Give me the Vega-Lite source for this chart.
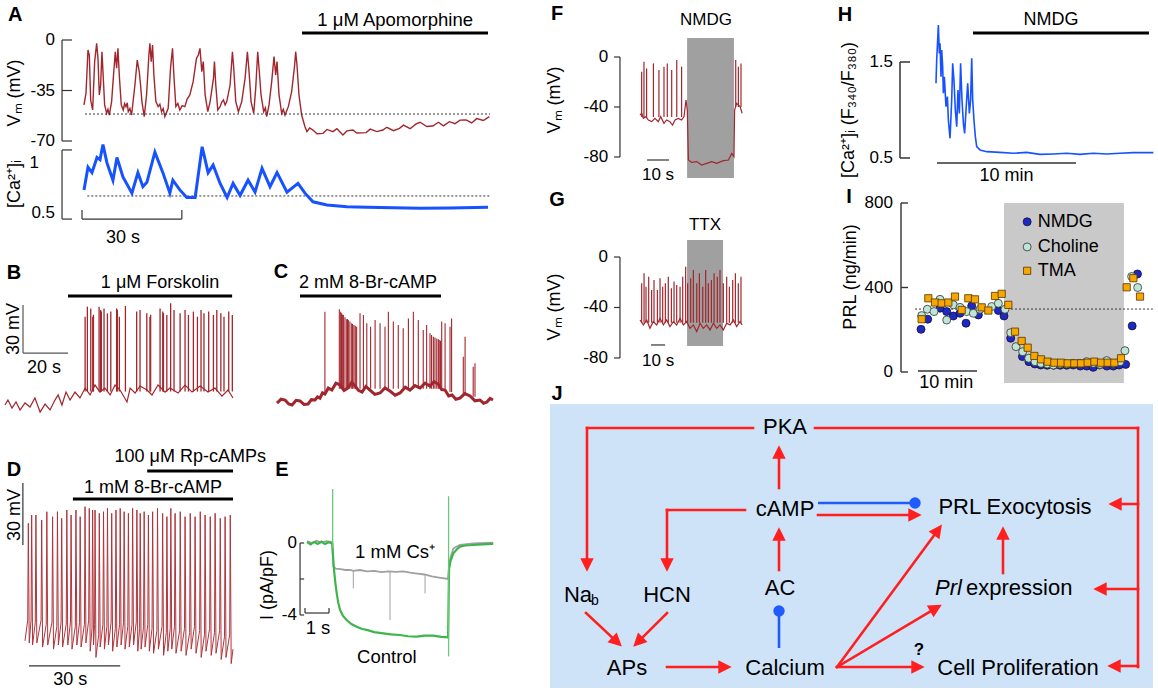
{
"$schema": "https://vega.github.io/schema/vega-lite/v6.json",
"width": 1158, "height": 692, "autosize": "none", "padding": 0, "background": "#ffffff",
"config": {"view": {"stroke": null}, "font": "Liberation Sans"},
"resolve": {"scale": {"x": "independent", "y": "independent"}},
"layer": [
{
"encoding": {"x": {"field": "t", "type": "quantitative", "scale": {"domain": [0, 122], "range": [84, 490], "nice": false, "zero": false}, "axis": null},
"y": {"field": "v", "type": "quantitative", "scale": {"domain": [-70, 0], "range": [141, 40], "nice": false, "zero": false}, "axis": null}},
"layer": [
{"data": {"values": [{"t":0.0,"v":-45},{"t":0.6,"v":-36.9},{"t":1.2,"v":-6.9},{"t":1.6,"v":-10.4},{"t":2.0,"v":-41.6},{"t":2.6,"v":-48.5},{"t":3.2,"v":-15},{"t":3.8,"v":-2.3},{"t":4.2,"v":-12.7},{"t":4.6,"v":-38.1},{"t":5.0,"v":-31.2},{"t":5.4,"v":-8.1},{"t":5.8,"v":-26.6},{"t":6.2,"v":-45},{"t":6.8,"v":-50.8},{"t":7.2,"v":-48},{"t":7.6,"v":-52},{"t":8.3,"v":-42.7},{"t":8.8,"v":-26.6},{"t":9.4,"v":-8.1},{"t":9.8,"v":-19.6},{"t":10.2,"v":-5.8},{"t":10.6,"v":-24.3},{"t":11.2,"v":-45},{"t":11.8,"v":-48.5},{"t":12.2,"v":-44},{"t":12.6,"v":-46.2},{"t":13.0,"v":-43.5},{"t":13.3,"v":-49.7},{"t":13.8,"v":-47.5},{"t":14.3,"v":-52},{"t":15.3,"v":-31.2},{"t":16.0,"v":-13.9},{"t":16.6,"v":-21.9},{"t":17.0,"v":-31.2},{"t":17.4,"v":-42.7},{"t":18.1,"v":-53.1},{"t":18.8,"v":-38.1},{"t":19.5,"v":-10.4},{"t":19.8,"v":-2.3},{"t":20.2,"v":-15},{"t":20.6,"v":-3.5},{"t":21.0,"v":-24.3},{"t":21.6,"v":-42.7},{"t":22.3,"v":-46.2},{"t":22.8,"v":-44.5},{"t":23.3,"v":-49.7},{"t":23.8,"v":-47.5},{"t":24.3,"v":-53.1},{"t":25.3,"v":-47.3},{"t":26.0,"v":-19.6},{"t":26.6,"v":-5.8},{"t":27.0,"v":-24.3},{"t":27.6,"v":-46.2},{"t":28.2,"v":-44},{"t":28.8,"v":-48.5},{"t":29.5,"v":-45.5},{"t":30.3,"v":-46.2},{"t":31.0,"v":-41},{"t":31.8,"v":-38.1},{"t":32.8,"v":-28.9},{"t":33.8,"v":-12.7},{"t":34.35,"v":-10.4},{"t":34.85,"v":-5.8},{"t":35.4,"v":-21.9},{"t":35.85,"v":-15},{"t":36.4,"v":-38.1},{"t":37.2,"v":-49.7},{"t":37.9,"v":-42.7},{"t":38.9,"v":-26.6},{"t":39.2,"v":-15},{"t":39.6,"v":-31.2},{"t":40.2,"v":-48.5},{"t":40.9,"v":-46.2},{"t":41.4,"v":-43},{"t":41.9,"v":-41.6},{"t":42.4,"v":-45},{"t":42.9,"v":-42.7},{"t":43.9,"v":-31.2},{"t":44.6,"v":-8.1},{"t":45.0,"v":-19.6},{"t":45.6,"v":-42.7},{"t":46.4,"v":-49.7},{"t":47.4,"v":-42.7},{"t":48.4,"v":-26.6},{"t":49.1,"v":-8.1},{"t":49.6,"v":-21.9},{"t":50.2,"v":-42.7},{"t":51.0,"v":-50.8},{"t":51.6,"v":-33.5},{"t":52.2,"v":-8.1},{"t":52.6,"v":-19.6},{"t":53.2,"v":-38.1},{"t":54.0,"v":-49.7},{"t":54.5,"v":-47},{"t":54.9,"v":-53.1},{"t":55.6,"v":-45},{"t":56.4,"v":-28.9},{"t":57.1,"v":-11.5},{"t":57.6,"v":-24.3},{"t":58.0,"v":-15},{"t":58.6,"v":-38.1},{"t":59.4,"v":-50.8},{"t":59.9,"v":-48},{"t":60.4,"v":-52},{"t":61.4,"v":-46.2},{"t":62.4,"v":-35.8},{"t":63.3,"v":-17.3},{"t":63.6,"v":-8.1},{"t":64.0,"v":-17.3},{"t":64.6,"v":-38.1},{"t":65.4,"v":-52},{"t":66.4,"v":-60.1},{"t":67.0,"v":-63.5},{"t":67.8,"v":-61},{"t":68.8,"v":-62.4},{"t":70,"v":-65},{"t":71.8,"v":-64.7},{"t":73,"v":-62},{"t":74.8,"v":-63.5},{"t":76,"v":-61.5},{"t":77.8,"v":-65.8},{"t":79,"v":-63},{"t":80.8,"v":-62.4},{"t":82,"v":-64.5},{"t":84.8,"v":-64.2},{"t":86,"v":-61.8},{"t":88,"v":-63.5},{"t":89.8,"v":-62.4},{"t":91,"v":-60.5},{"t":93,"v":-62.8},{"t":94.8,"v":-61.2},{"t":96,"v":-59},{"t":98,"v":-61.5},{"t":99.8,"v":-58.2},{"t":101,"v":-57},{"t":103,"v":-60},{"t":104.8,"v":-59.6},{"t":106.5,"v":-57},{"t":108,"v":-59.5},{"t":109.8,"v":-56.6},{"t":111.5,"v":-58},{"t":113,"v":-55.5},{"t":114.8,"v":-55.4},{"t":116.5,"v":-57.5},{"t":118,"v":-54.5},{"t":120,"v":-55.8},{"t":121.8,"v":-53.1}]},
 "mark": {"type": "line", "color": "#a1262d", "strokeWidth": 1.4}},
{"data": {"values": [{"t":0.3,"v":-51.3},{"t":122,"v":-51.3}]}, "mark": {"type": "line", "color": "#333333", "strokeWidth": 1, "strokeDash": [2, 2]}},
{"data": {"values": [{"t":-6.6,"t2":-6.6,"v":-70,"v2":0},{"t":-6.6,"t2":-3.6,"v":0,"v2":0},{"t":-6.6,"t2":-3.6,"v":-35,"v2":-35},{"t":-6.6,"t2":-3.6,"v":-70,"v2":-70}]},
 "mark": {"type": "rule", "color": "#333333", "strokeWidth": 1.2}, "encoding": {"x2": {"field": "t2"}, "y2": {"field": "v2"}}},
{"data": {"values": [{"t":65.5,"t2":121.4,"v":4.85,"v2":4.85}]}, "mark": {"type": "rule", "color": "#000000", "strokeWidth": 3}, "encoding": {"x2": {"field": "t2"}, "y2": {"field": "v2"}}},
{"data": {"values": [{"t":93.5,"v":13.9,"label":"1 μM Apomorphine"}]}, "mark": {"type": "text", "fontSize": 18.5}, "encoding": {"text": {"field": "label"}}},
{"data": {"values": [{"t":-8.7,"v":0,"label":"0"},{"t":-8.7,"v":-35,"label":"-35"},{"t":-8.7,"v":-70,"label":"-70"}]}, "mark": {"type": "text", "fontSize": 17, "align": "right"}, "encoding": {"text": {"field": "label"}}},
{"data": {"values": [{"t":-20.7,"v":-36.7,"label":"Vₘ (mV)"}]}, "mark": {"type": "text", "fontSize": 18, "angle": 270}, "encoding": {"text": {"field": "label"}}},
{"data": {"values": [{"t":-20.7,"v":17.3,"label":"A"}]}, "mark": {"type": "text", "fontSize": 20, "fontWeight": "bold"}, "encoding": {"text": {"field": "label"}}}
]
},
{
"encoding": {"x": {"field": "t", "type": "quantitative", "scale": {"domain": [0, 122], "range": [84, 490], "nice": false, "zero": false}, "axis": null},
"y": {"field": "v", "type": "quantitative", "scale": {"domain": [0.5, 1.0], "range": [218, 164], "nice": false, "zero": false}, "axis": null}},
"layer": [
{"data": {"values": [{"t":1,"v":0.704},{"t":122,"v":0.704}]}, "mark": {"type": "line", "color": "#333333", "strokeWidth": 1, "strokeDash": [2, 2]}},
{"data": {"values": [{"t":0,"v":0.76},{"t":1.2,"v":0.97},{"t":2.4,"v":0.92},{"t":3.9,"v":1.06},{"t":4.8,"v":1.04},{"t":5.7,"v":1.18},{"t":6.9,"v":1.01},{"t":8.7,"v":0.85},{"t":9.9,"v":1.06},{"t":11.7,"v":0.88},{"t":14.4,"v":0.73},{"t":16.2,"v":0.92},{"t":17.7,"v":0.79},{"t":18.9,"v":0.83},{"t":21.3,"v":1.11},{"t":23.7,"v":0.92},{"t":25.8,"v":0.73},{"t":26.7,"v":0.85},{"t":28.8,"v":0.76},{"t":30.9,"v":0.69},{"t":33.4,"v":0.69},{"t":35.5,"v":1.16},{"t":37.3,"v":0.92},{"t":38.8,"v":0.99},{"t":40.9,"v":0.82},{"t":43.0,"v":0.69},{"t":44.8,"v":0.82},{"t":46.9,"v":0.71},{"t":49.3,"v":0.85},{"t":51.4,"v":0.74},{"t":53.5,"v":0.96},{"t":55.9,"v":0.79},{"t":58.0,"v":0.92},{"t":61.0,"v":0.74},{"t":64.3,"v":0.82},{"t":66.4,"v":0.73},{"t":68.8,"v":0.65},{"t":73.0,"v":0.62},{"t":79,"v":0.605},{"t":85,"v":0.6},{"t":93,"v":0.595},{"t":101,"v":0.59},{"t":110,"v":0.592},{"t":121.4,"v":0.6}]},
 "mark": {"type": "line", "color": "#1752ff", "strokeWidth": 3}},
{"data": {"values": [{"t":-6.6,"t2":-6.6,"v":0.49,"v2":1.13},{"t":-6.6,"t2":-3.6,"v":1.13,"v2":1.13},{"t":-6.6,"t2":-3.6,"v":0.49,"v2":0.49},{"t":-0.6,"t2":29.4,"v":0.49,"v2":0.49},{"t":-0.6,"t2":-0.6,"v":0.49,"v2":0.574},{"t":29.4,"t2":29.4,"v":0.49,"v2":0.574}]},
 "mark": {"type": "rule", "color": "#333333", "strokeWidth": 1.2}, "encoding": {"x2": {"field": "t2"}, "y2": {"field": "v2"}}},
{"data": {"values": [{"t":-13.5,"v":1.01,"label":"1"},{"t":-8.7,"v":0.546,"label":"0.5"}]}, "mark": {"type": "text", "fontSize": 17, "align": "right"}, "encoding": {"text": {"field": "label"}}},
{"data": {"values": [{"t":11.7,"v":0.315,"label":"30 s"}]}, "mark": {"type": "text", "fontSize": 18}, "encoding": {"text": {"field": "label"}}},
{"data": {"values": [{"t":-20.7,"v":0.815,"label":"[Ca²⁺]ᵢ"}]}, "mark": {"type": "text", "fontSize": 18, "angle": 270}, "encoding": {"text": {"field": "label"}}}
]
},
{
"encoding": {"x": {"field": "t", "type": "quantitative", "scale": {"domain": [0, 101.3], "range": [5, 233], "nice": false, "zero": false}, "axis": null},
"y": {"field": "v", "type": "quantitative", "scale": {"domain": [-60, 0], "range": [406, 310], "nice": false, "zero": false}, "axis": null}},
"layer": [
{"data": {"values": [{"t":0,"v":-59.4},{"t":1.3,"v":-56.3},{"t":3.1,"v":-61.3},{"t":4.9,"v":-57.5},{"t":6.7,"v":-62.5},{"t":8.9,"v":-58.1},{"t":11.1,"v":-60.6},{"t":13.3,"v":-55},{"t":15.6,"v":-63.8},{"t":17.8,"v":-58.8},{"t":20,"v":-62.5},{"t":22.2,"v":-56.3},{"t":23.6,"v":-53.1},{"t":25.3,"v":-59.4},{"t":27.1,"v":-51.3},{"t":28.9,"v":-56.3},{"t":31.1,"v":-51.3},{"t":33.3,"v":-55},{"t":35.6,"v":-48.8},{"t":37.8,"v":-53.1},{"t":40,"v":-46.9},{"t":42.2,"v":-51.3},{"t":44.4,"v":-48.8},{"t":46.7,"v":-53.1},{"t":48.9,"v":-46.9},{"t":51.1,"v":-50},{"t":54.2,"v":-57.5},{"t":55.6,"v":-48.8},{"t":57.8,"v":-51.9},{"t":60,"v":-47.5},{"t":63.1,"v":-50},{"t":65.3,"v":-53.1},{"t":68,"v":-46.9},{"t":71.1,"v":-51.3},{"t":73.3,"v":-48.8},{"t":76.9,"v":-51.9},{"t":80,"v":-46.9},{"t":83.1,"v":-51.3},{"t":86.7,"v":-47.5},{"t":90.2,"v":-51.3},{"t":93.3,"v":-48.8},{"t":96.4,"v":-53.8},{"t":99.1,"v":-50},{"t":101.3,"v":-55}]},
 "mark": {"type": "line", "color": "#a1262d", "strokeWidth": 1.2}},
{"data": {"values": [{"t":35.6,"v":-51,"v2":-4.2},{"t":36.6,"v":-51,"v2":2.1},{"t":38.1,"v":-51,"v2":1},{"t":39.0,"v":-51,"v2":-4.2},{"t":39.3,"v":-51,"v2":-3},{"t":41.8,"v":-51,"v2":2.1},{"t":42.5,"v":-51,"v2":0},{"t":42.8,"v":-51,"v2":-1},{"t":44.0,"v":-51,"v2":1},{"t":45.5,"v":-51,"v2":-2.1},{"t":47.0,"v":-51,"v2":-1},{"t":49.6,"v":-51,"v2":1},{"t":49.9,"v":-51,"v2":0},{"t":50.8,"v":-51,"v2":-4.2},{"t":53.5,"v":-51,"v2":2.5},{"t":58.5,"v":-51,"v2":-1},{"t":60.0,"v":-51,"v2":0},{"t":63.0,"v":-51,"v2":-2.1},{"t":64.4,"v":-51,"v2":-4.2},{"t":64.7,"v":-51,"v2":-3},{"t":68.9,"v":-51,"v2":1},{"t":70.1,"v":-51,"v2":-1},{"t":70.4,"v":-51,"v2":-2},{"t":71.9,"v":-51,"v2":-3.1},{"t":73.6,"v":-51,"v2":4.2},{"t":75.1,"v":-51,"v2":0},{"t":77.8,"v":-51,"v2":-2.1},{"t":80.0,"v":-51,"v2":0},{"t":81.5,"v":-51,"v2":-3.1},{"t":83.7,"v":-51,"v2":-1},{"t":85.5,"v":-51,"v2":-4.2},{"t":87.1,"v":-51,"v2":0},{"t":88.4,"v":-51,"v2":-2.1},{"t":90.5,"v":-51,"v2":-1},{"t":92.6,"v":-51,"v2":-3.1},{"t":94.1,"v":-51,"v2":0},{"t":95.9,"v":-51,"v2":-2.1},{"t":97.3,"v":-51,"v2":-4.2},{"t":99.4,"v":-51,"v2":-1},{"t":101.0,"v":-51,"v2":-3.1}]},
 "mark": {"type": "rule", "color": "#a1262d", "strokeWidth": 1.3}, "encoding": {"y2": {"field": "v2"}}},
{"data": {"values": [{"t":8,"t2":8,"v":-26.9,"v2":3.1},{"t":8,"t2":28,"v":-26.9,"v2":-26.9}]}, "mark": {"type": "rule", "color": "#555555", "strokeWidth": 1.2}, "encoding": {"x2": {"field": "t2"}, "y2": {"field": "v2"}}},
{"data": {"values": [{"t":28,"t2":100.9,"v":8.75,"v2":8.75}]}, "mark": {"type": "rule", "color": "#000000", "strokeWidth": 3}, "encoding": {"x2": {"field": "t2"}, "y2": {"field": "v2"}}},
{"data": {"values": [{"t":68.9,"v":16.9,"label":"1 μM Forskolin"},{"t":17.3,"v":-36.25,"label":"20 s"}]}, "mark": {"type": "text", "fontSize": 18}, "encoding": {"text": {"field": "label"}}},
{"data": {"values": [{"t":4.2,"v":-11.9,"label":"30 mV"}]}, "mark": {"type": "text", "fontSize": 18, "angle": 270}, "encoding": {"text": {"field": "label"}}},
{"data": {"values": [{"t":4.0,"v":23.1,"label":"B"}]}, "mark": {"type": "text", "fontSize": 20, "fontWeight": "bold"}, "encoding": {"text": {"field": "label"}}}
]
},
{
"encoding": {"x": {"field": "t", "type": "quantitative", "scale": {"domain": [0, 96], "range": [277, 493], "nice": false, "zero": false}, "axis": null},
"y": {"field": "v", "type": "quantitative", "scale": {"domain": [-60, 0], "range": [416, 320], "nice": false, "zero": false}, "axis": null}},
"layer": [
{"data": {"values": [{"t":21.3,"v":-46,"v2":5.2},{"t":27.7,"v":-43,"v2":6.7},{"t":28.3,"v":-43,"v2":5.2},{"t":28.7,"v":-43,"v2":4.2},{"t":29.2,"v":-43,"v2":3.5},{"t":29.5,"v":-43,"v2":3.1},{"t":30.2,"v":-43,"v2":1.7},{"t":31.0,"v":-43,"v2":0.4},{"t":31.3,"v":-43,"v2":0.7},{"t":31.7,"v":-43,"v2":0},{"t":32.4,"v":-43,"v2":-1},{"t":33.2,"v":-43,"v2":-2.1},{"t":33.6,"v":-43,"v2":-2.5},{"t":34.2,"v":-43,"v2":-3.1},{"t":34.8,"v":-43,"v2":-3.6},{"t":35.4,"v":-43,"v2":-4.2},{"t":36.9,"v":-43,"v2":4.2},{"t":38.4,"v":-43,"v2":3.1},{"t":39.9,"v":-43,"v2":-2.1},{"t":41.6,"v":-43,"v2":-4.2},{"t":43.6,"v":-43,"v2":0},{"t":45.8,"v":-43,"v2":-2.1},{"t":48.0,"v":-43,"v2":-4.2},{"t":49.5,"v":-43,"v2":5.2},{"t":51.7,"v":-43,"v2":-1},{"t":53.9,"v":-43,"v2":-3.1},{"t":56.1,"v":-43,"v2":-5.2},{"t":58.4,"v":-43,"v2":1},{"t":60.6,"v":-43,"v2":5.2},{"t":62.8,"v":-43,"v2":0},{"t":65.0,"v":-43,"v2":-6.2},{"t":66.5,"v":-43,"v2":-3.1},{"t":68.0,"v":-43,"v2":-8.3},{"t":68.7,"v":-43,"v2":-9.4},{"t":69.5,"v":-43,"v2":-10.4},{"t":70.2,"v":-43,"v2":-11},{"t":71.0,"v":-43,"v2":-11.5},{"t":71.7,"v":-43,"v2":-12},{"t":72.1,"v":-43,"v2":-12.5},{"t":72.7,"v":-43,"v2":-13},{"t":73.2,"v":-43,"v2":-1},{"t":74.7,"v":-43,"v2":-2.1},{"t":76.9,"v":-45,"v2":-4.2},{"t":77.6,"v":-45,"v2":1},{"t":82.8,"v":-47,"v2":-22.9},{"t":83.6,"v":-47,"v2":-10.4},{"t":87.2,"v":-48,"v2":-29.2},{"t":88.0,"v":-48,"v2":-27.1}]},
 "mark": {"type": "rule", "color": "#a1262d", "strokeWidth": 1.1}, "encoding": {"y2": {"field": "v2"}}},
{"data": {"values": [{"t":0,"v":-51.9},{"t":1.8,"v":-49.5},{"t":3.6,"v":-50},{"t":5.2,"v":-52.5},{"t":6.7,"v":-53.1},{"t":8.5,"v":-50.2},{"t":10.2,"v":-50.6},{"t":12,"v":-52.8},{"t":13.8,"v":-52.5},{"t":15.3,"v":-49.8},{"t":16.9,"v":-50},{"t":18,"v":-48},{"t":19.1,"v":-48.8},{"t":20.2,"v":-45.5},{"t":21.3,"v":-46.3},{"t":22.8,"v":-42.5},{"t":24.4,"v":-43.8},{"t":26.2,"v":-39.5},{"t":28,"v":-40.6},{"t":29.8,"v":-44},{"t":31.6,"v":-42.5},{"t":33.2,"v":-39},{"t":34.7,"v":-41.3},{"t":36.2,"v":-44},{"t":37.8,"v":-45},{"t":39.5,"v":-41.5},{"t":41.3,"v":-43.8},{"t":43.5,"v":-46.5},{"t":45.8,"v":-45.6},{"t":48,"v":-42.5},{"t":50.2,"v":-44.4},{"t":52.5,"v":-47},{"t":54.7,"v":-45.6},{"t":57,"v":-42},{"t":59.1,"v":-43.8},{"t":61.3,"v":-41},{"t":63.6,"v":-42.5},{"t":65.8,"v":-39.5},{"t":68,"v":-41.3},{"t":69.8,"v":-38.5},{"t":71.6,"v":-40},{"t":73.2,"v":-43.5},{"t":74.7,"v":-43.8},{"t":76.3,"v":-47.5},{"t":77.8,"v":-46.9},{"t":79.5,"v":-49.5},{"t":81.3,"v":-48.8},{"t":83.5,"v":-46},{"t":85.8,"v":-47.5},{"t":88,"v":-50.5},{"t":90.2,"v":-50},{"t":91.8,"v":-52},{"t":93.3,"v":-51.3},{"t":94.7,"v":-49},{"t":96,"v":-50}]},
 "mark": {"type": "line", "color": "#a1262d", "strokeWidth": 3}},
{"data": {"values": [{"t":10.2,"t2":72.9,"v":15,"v2":15}]}, "mark": {"type": "rule", "color": "#000000", "strokeWidth": 3}, "encoding": {"x2": {"field": "t2"}, "y2": {"field": "v2"}}},
{"data": {"values": [{"t":40.4,"v":23.1,"label":"2 mM 8-Br-cAMP"}]}, "mark": {"type": "text", "fontSize": 18}, "encoding": {"text": {"field": "label"}}},
{"data": {"values": [{"t":1.8,"v":30,"label":"C"}]}, "mark": {"type": "text", "fontSize": 20, "fontWeight": "bold"}, "encoding": {"text": {"field": "label"}}}
]
},
{
"encoding": {"x": {"field": "t", "type": "quantitative", "scale": {"domain": [0, 68.6], "range": [25, 233], "nice": false, "zero": false}, "axis": null},
"y": {"field": "v", "type": "quantitative", "scale": {"domain": [-70, 10], "range": [665.7, 500.1], "nice": false, "zero": false}, "axis": null}},
"layer": [
{"data": {"values": [{"t":0,"v":-58},{"t":0.9,"v":-48},{"t":1.1,"v":-1.2},{"t":1.4,"v":-59},{"t":2.0,"v":-48},{"t":2.2,"v":2.8},{"t":2.5,"v":-60},{"t":3.4,"v":-49},{"t":3.6,"v":2.8},{"t":3.9,"v":-59},{"t":5.3,"v":-48},{"t":5.5,"v":0.4},{"t":5.8,"v":-61},{"t":7.0,"v":-50},{"t":7.2,"v":4.4},{"t":7.5,"v":-60},{"t":8.9,"v":-49},{"t":9.1,"v":2.0},{"t":9.4,"v":-62},{"t":10.5,"v":-51},{"t":10.7,"v":4.4},{"t":11.0,"v":-60},{"t":11.9,"v":-49},{"t":12.1,"v":1.2},{"t":12.4,"v":-61},{"t":13.6,"v":-50},{"t":13.8,"v":5.2},{"t":14.1,"v":-60},{"t":15.0,"v":-49},{"t":15.2,"v":2.8},{"t":15.5,"v":-62},{"t":16.6,"v":-51},{"t":16.8,"v":5.2},{"t":17.1,"v":-60},{"t":18.0,"v":-49},{"t":18.2,"v":2.0},{"t":18.5,"v":-61},{"t":19.6,"v":-50},{"t":19.8,"v":6.8},{"t":20.1,"v":-59},{"t":21.0,"v":-48},{"t":21.2,"v":6.0},{"t":21.5,"v":-63},{"t":22.1,"v":-52},{"t":22.3,"v":5.2},{"t":22.6,"v":-60},{"t":22.95,"v":-50},{"t":23.1,"v":5.2},{"t":23.4,"v":-66},{"t":24.3,"v":-55},{"t":24.5,"v":3.6},{"t":24.8,"v":-61},{"t":25.7,"v":-50},{"t":25.9,"v":4.4},{"t":26.2,"v":-62},{"t":27.0,"v":-51},{"t":27.2,"v":6.0},{"t":27.5,"v":-60},{"t":28.4,"v":-49},{"t":28.6,"v":3.6},{"t":28.9,"v":-63},{"t":29.8,"v":-52},{"t":30.0,"v":5.2},{"t":30.3,"v":-61},{"t":31.2,"v":-50},{"t":31.4,"v":6.0},{"t":31.7,"v":-60},{"t":32.5,"v":-49},{"t":32.7,"v":4.4},{"t":33.0,"v":-62},{"t":33.9,"v":-51},{"t":34.1,"v":3.6},{"t":34.4,"v":-61},{"t":35.3,"v":-50},{"t":35.5,"v":6.0},{"t":35.8,"v":-60},{"t":36.7,"v":-49},{"t":36.9,"v":5.2},{"t":37.2,"v":-63},{"t":37.8,"v":-52},{"t":38.0,"v":3.6},{"t":38.3,"v":-62},{"t":39.1,"v":-51},{"t":39.3,"v":4.4},{"t":39.6,"v":-61},{"t":40.5,"v":-50},{"t":40.7,"v":2.8},{"t":41.0,"v":-63},{"t":41.9,"v":-52},{"t":42.1,"v":4.4},{"t":42.4,"v":-64},{"t":43.5,"v":-53},{"t":43.7,"v":6.0},{"t":44.0,"v":-62},{"t":45.2,"v":-51},{"t":45.4,"v":3.6},{"t":45.7,"v":-65},{"t":46.6,"v":-54},{"t":46.8,"v":2.0},{"t":47.1,"v":-63},{"t":47.9,"v":-52},{"t":48.1,"v":6.0},{"t":48.4,"v":-62},{"t":49.3,"v":-51},{"t":49.5,"v":3.6},{"t":49.8,"v":-64},{"t":51.0,"v":-53},{"t":51.2,"v":4.4},{"t":51.5,"v":-63},{"t":52.6,"v":-52},{"t":52.8,"v":2.0},{"t":53.1,"v":-65},{"t":54.3,"v":-54},{"t":54.5,"v":3.6},{"t":54.8,"v":-62},{"t":55.9,"v":-51},{"t":56.1,"v":2.0},{"t":56.4,"v":-64},{"t":57.6,"v":-53},{"t":57.8,"v":4.4},{"t":58.1,"v":-66},{"t":59.2,"v":-55},{"t":59.4,"v":2.8},{"t":59.7,"v":-63},{"t":60.9,"v":-52},{"t":61.1,"v":2.0},{"t":61.4,"v":-65},{"t":62.5,"v":-54},{"t":62.7,"v":3.6},{"t":63.0,"v":-64},{"t":64.2,"v":-53},{"t":64.4,"v":1.2},{"t":64.7,"v":-67},{"t":65.8,"v":-56},{"t":66.0,"v":2.0},{"t":66.3,"v":-66},{"t":67.5,"v":-55},{"t":67.7,"v":2.8},{"t":68.0,"v":-69},{"t":68.6,"v":-62}]},
 "mark": {"type": "line", "color": "#b0343c", "strokeWidth": 1}},
{"data": {"values": [{"t":-0.7,"t2":-0.7,"v":-11.7,"v2":18.3},{"t":1.32,"t2":31.4,"v":-70.1,"v2":-70.1}]}, "mark": {"type": "rule", "color": "#333333", "strokeWidth": 1.2}, "encoding": {"x2": {"field": "t2"}, "y2": {"field": "v2"}}},
{"data": {"values": [{"t":15.8,"t2":68.6,"v":10.5,"v2":10.5},{"t":40.3,"t2":68.6,"v":24.1,"v2":24.1}]}, "mark": {"type": "rule", "color": "#000000", "strokeWidth": 3}, "encoding": {"x2": {"field": "t2"}, "y2": {"field": "v2"}}},
{"data": {"values": [{"t":42.2,"v":15.8,"label":"1 mM 8-Br-cAMP"},{"t":54.5,"v":30.8,"label":"100 μM Rp-cAMPs"},{"t":14.9,"v":-76.9,"label":"30 s"}]}, "mark": {"type": "text", "fontSize": 18}, "encoding": {"text": {"field": "label"}}},
{"data": {"values": [{"t":-3.3,"v":2.8,"label":"30 mV"}]}, "mark": {"type": "text", "fontSize": 18, "angle": 270}, "encoding": {"text": {"field": "label"}}},
{"data": {"values": [{"t":-3.6,"v":24.5,"label":"D"}]}, "mark": {"type": "text", "fontSize": 20, "fontWeight": "bold"}, "encoding": {"text": {"field": "label"}}}
]
},
{
"encoding": {"x": {"field": "t", "type": "quantitative", "scale": {"domain": [0, 7.76], "range": [307, 493.2], "nice": false, "zero": false}, "axis": null},
"y": {"field": "v", "type": "quantitative", "scale": {"domain": [-6.5, 3.5], "range": [660, 480], "nice": false, "zero": false}, "axis": null}},
"layer": [
{"data": {"values": [{"t":0,"v":0.1},{"t":0.2,"v":0.0},{"t":0.4,"v":0.12},{"t":0.6,"v":0.02},{"t":0.8,"v":0.1},{"t":1.05,"v":0.05},{"t":1.08,"v":-0.8},{"t":1.1,"v":-1.3},{"t":1.2,"v":-1.42},{"t":1.4,"v":-1.45},{"t":1.6,"v":-1.5},{"t":1.8,"v":-1.5},{"t":1.93,"v":-1.55},{"t":2.2,"v":-1.5},{"t":2.5,"v":-1.58},{"t":2.8,"v":-1.55},{"t":3.1,"v":-1.62},{"t":3.4,"v":-1.58},{"t":3.7,"v":-1.6},{"t":4.0,"v":-1.58},{"t":4.3,"v":-1.65},{"t":4.6,"v":-1.7},{"t":4.9,"v":-1.75},{"t":5.2,"v":-1.85},{"t":5.5,"v":-1.92},{"t":5.88,"v":-2.0},{"t":5.92,"v":-1.3},{"t":5.98,"v":-0.8},{"t":6.1,"v":-0.3},{"t":6.375,"v":-0.1},{"t":6.93,"v":-0.02},{"t":7.76,"v":0.02}]},
 "mark": {"type": "line", "color": "#a0a0a0", "strokeWidth": 1.8}},
{"data": {"values": [{"t":1.93,"t2":1.93,"v":-1.55,"v2":-2.52},{"t":3.46,"t2":3.46,"v":-1.6,"v2":-4.28},{"t":4.92,"t2":4.92,"v":-1.75,"v2":-2.8}]}, "mark": {"type": "rule", "color": "#a0a0a0", "strokeWidth": 1}, "encoding": {"x2": {"field": "t2"}, "y2": {"field": "v2"}}},
{"data": {"values": [{"t":0,"v":0.05},{"t":0.15,"v":-0.08},{"t":0.3,"v":0.06},{"t":0.45,"v":-0.05},{"t":0.6,"v":0.08},{"t":0.75,"v":-0.06},{"t":0.9,"v":0.04},{"t":1.05,"v":-0.03},{"t":1.08,"v":-0.6},{"t":1.12,"v":-1.4},{"t":1.18,"v":-2.2},{"t":1.24,"v":-2.8},{"t":1.3,"v":-3.3},{"t":1.375,"v":-3.7},{"t":1.5,"v":-4.05},{"t":1.65,"v":-4.28},{"t":1.85,"v":-4.5},{"t":2.07,"v":-4.65},{"t":2.3,"v":-4.78},{"t":2.49,"v":-4.83},{"t":2.8,"v":-4.95},{"t":3.18,"v":-5.02},{"t":3.5,"v":-5.08},{"t":3.875,"v":-5.11},{"t":4.2,"v":-5.18},{"t":4.57,"v":-5.2},{"t":4.9,"v":-5.15},{"t":5.26,"v":-5.15},{"t":5.6,"v":-5.22},{"t":5.88,"v":-5.24},{"t":5.92,"v":-1.45},{"t":5.98,"v":-1.0},{"t":6.1,"v":-0.57},{"t":6.25,"v":-0.35},{"t":6.375,"v":-0.2},{"t":6.6,"v":-0.14},{"t":6.93,"v":-0.11},{"t":7.3,"v":-0.08},{"t":7.76,"v":-0.05}]},
 "mark": {"type": "line", "color": "#3db54a", "strokeWidth": 2.2}},
{"data": {"values": [{"t":1.07,"t2":1.07,"v":-0.3,"v2":3.0},{"t":5.9,"t2":5.9,"v":-6.3,"v2":2.6}]}, "mark": {"type": "rule", "color": "#6cc878", "strokeWidth": 1.3}, "encoding": {"x2": {"field": "t2"}, "y2": {"field": "v2"}}},
{"data": {"values": [{"t":-0.29,"t2":-0.29,"v":-4,"v2":0},{"t":-0.29,"t2":-0.12,"v":0,"v2":0},{"t":-0.29,"t2":-0.12,"v":-2,"v2":-2},{"t":-0.29,"t2":-0.12,"v":-4,"v2":-4},{"t":-0.083,"t2":0.917,"v":-3.89,"v2":-3.89},{"t":-0.083,"t2":-0.083,"v":-3.89,"v2":-3.61},{"t":0.917,"t2":0.917,"v":-3.89,"v2":-3.61}]},
 "mark": {"type": "rule", "color": "#333333", "strokeWidth": 1.2}, "encoding": {"x2": {"field": "t2"}, "y2": {"field": "v2"}}},
{"data": {"values": [{"t":-0.42,"v":0,"label":"0"},{"t":-0.42,"v":-4,"label":"-4"}]}, "mark": {"type": "text", "fontSize": 17, "align": "right"}, "encoding": {"text": {"field": "label"}}},
{"data": {"values": [{"t":0.46,"v":-4.72,"label":"1 s"},{"t":3.67,"v":-0.5,"label":"1 mM Cs⁺"},{"t":3.33,"v":-6.33,"label":"Control"}]}, "mark": {"type": "text", "fontSize": 18.5}, "encoding": {"text": {"field": "label"}}},
{"data": {"values": [{"t":-1.625,"v":-2.33,"label":"I (pA/pF)"}]}, "mark": {"type": "text", "fontSize": 18, "angle": 270}, "encoding": {"text": {"field": "label"}}},
{"data": {"values": [{"t":-1.04,"v":4.06,"label":"E"}]}, "mark": {"type": "text", "fontSize": 20, "fontWeight": "bold"}, "encoding": {"text": {"field": "label"}}}
]
},
{
"encoding": {"x": {"field": "t", "type": "quantitative", "scale": {"domain": [0, 46.4], "range": [640, 742.1], "nice": false, "zero": false}, "axis": null},
"y": {"field": "v", "type": "quantitative", "scale": {"domain": [-90, 0], "range": [169.5, 57], "nice": false, "zero": false}, "axis": null}},
"layer": [
{"data": {"values": [{"t":21.4,"t2":42.7,"v":15.2,"v2":-96.8}]}, "mark": {"type": "rect", "color": "#a0a0a0"}, "encoding": {"x2": {"field": "t2"}, "y2": {"field": "v2"}}},
{"data": {"values": [{"t":0,"v":-46.4},{"t":0.76,"v":-45.1},{"t":1.5,"v":-49.1},{"t":2.7,"v":-47.7},{"t":3.8,"v":-50.4},{"t":5.3,"v":-51.7},{"t":6.8,"v":-49.1},{"t":8.3,"v":-51.7},{"t":9.4,"v":-47.7},{"t":10.9,"v":-53.1},{"t":12.1,"v":-50.4},{"t":13.6,"v":-51.7},{"t":14.8,"v":-54.4},{"t":15.9,"v":-50.4},{"t":17.4,"v":-49.1},{"t":18.9,"v":-50.4},{"t":20.0,"v":-47.7},{"t":20.9,"v":-34.4},{"t":21.5,"v":-42.4},{"t":22.0,"v":-82.4},{"t":23.5,"v":-84.3},{"t":25.8,"v":-83.7},{"t":28.0,"v":-86.4},{"t":30.3,"v":-85.1},{"t":32.6,"v":-83.7},{"t":34.8,"v":-85.1},{"t":37.9,"v":-82.9},{"t":40.2,"v":-82.4},{"t":41.7,"v":-77.1},{"t":42.7,"v":-79.7},{"t":43.0,"v":-42.4},{"t":43.9,"v":-37.1},{"t":45.5,"v":-39.7},{"t":46.4,"v":-45}]},
 "mark": {"type": "line", "color": "#a1262d", "strokeWidth": 1.2}},
{"data": {"values": [{"t":0.76,"v":-48,"v2":-11.7},{"t":1.8,"v":-48,"v2":-3.7},{"t":3.0,"v":-48,"v2":-9.1},{"t":6.1,"v":-48,"v2":-5.1},{"t":8.6,"v":-48,"v2":-10.4},{"t":10.9,"v":-48,"v2":-7.7},{"t":12.4,"v":-48,"v2":-5.1},{"t":14.4,"v":-48,"v2":-10.4},{"t":16.7,"v":-48,"v2":-2.4},{"t":18.9,"v":-48,"v2":-7.7},{"t":43.5,"v":-40,"v2":-2.4},{"t":44.7,"v":-40,"v2":-7.7},{"t":45.9,"v":-40,"v2":-5.1}]},
 "mark": {"type": "rule", "color": "#a1262d", "strokeWidth": 1.2}, "encoding": {"y2": {"field": "v2"}}},
{"data": {"values": [{"t":-9.1,"t2":-9.1,"v":-80,"v2":0},{"t":-11.8,"t2":-9.1,"v":0,"v2":0},{"t":-11.8,"t2":-9.1,"v":-40,"v2":-40},{"t":-11.8,"t2":-9.1,"v":-80,"v2":-80},{"t":3.2,"t2":13.2,"v":-82.4,"v2":-82.4}]},
 "mark": {"type": "rule", "color": "#333333", "strokeWidth": 1.2}, "encoding": {"x2": {"field": "t2"}, "y2": {"field": "v2"}}},
{"data": {"values": [{"t":-14.5,"v":0,"label":"0"},{"t":-14.5,"v":-40,"label":"-40"},{"t":-14.5,"v":-80,"label":"-80"}]}, "mark": {"type": "text", "fontSize": 17, "align": "right"}, "encoding": {"text": {"field": "label"}}},
{"data": {"values": [{"t":30,"v":29.6,"label":"NMDG"},{"t":8.2,"v":-94.4,"label":"10 s"}]}, "mark": {"type": "text", "fontSize": 17}, "encoding": {"text": {"field": "label"}}},
{"data": {"values": [{"t":-38.6,"v":-34.4,"label":"Vₘ (mV)"}]}, "mark": {"type": "text", "fontSize": 18, "angle": 270}, "encoding": {"text": {"field": "label"}}},
{"data": {"values": [{"t":-37.7,"v":34.4,"label":"F"}]}, "mark": {"type": "text", "fontSize": 20, "fontWeight": "bold"}, "encoding": {"text": {"field": "label"}}}
]
},
{
"encoding": {"x": {"field": "t", "type": "quantitative", "scale": {"domain": [0, 72.9], "range": [640, 742.1], "nice": false, "zero": false}, "axis": null},
"y": {"field": "v", "type": "quantitative", "scale": {"domain": [-90, 0], "range": [370.6, 257], "nice": false, "zero": false}, "axis": null}},
"layer": [
{"data": {"values": [{"t":33.6,"t2":59.3,"v":13.5,"v2":-70.5}]}, "mark": {"type": "rect", "color": "#a0a0a0"}, "encoding": {"x2": {"field": "t2"}, "y2": {"field": "v2"}}},
{"data": {"values": [{"t":0,"v":-49.9},{"t":2.4,"v":-53.8},{"t":4.8,"v":-49.9},{"t":7.1,"v":-56.5},{"t":9.5,"v":-51.2},{"t":11.9,"v":-53.8},{"t":14.3,"v":-48.5},{"t":16.7,"v":-53.8},{"t":19.0,"v":-49.9},{"t":21.4,"v":-55.1},{"t":23.8,"v":-51.2},{"t":26.2,"v":-53.8},{"t":28.6,"v":-48.5},{"t":31.0,"v":-53.8},{"t":33.3,"v":-51.2},{"t":35.7,"v":-56.5},{"t":38.1,"v":-53.8},{"t":40.5,"v":-59.1},{"t":42.9,"v":-52.5},{"t":45.2,"v":-56.5},{"t":47.6,"v":-53.8},{"t":50.0,"v":-57.8},{"t":52.4,"v":-52.5},{"t":54.8,"v":-56.5},{"t":57.1,"v":-53.8},{"t":59.5,"v":-57.8},{"t":61.9,"v":-52.5},{"t":64.3,"v":-53.8},{"t":66.7,"v":-49.9},{"t":69.0,"v":-55.1},{"t":71.4,"v":-51.2},{"t":72.9,"v":-53.8}]},
 "mark": {"type": "line", "color": "#a1262d", "strokeWidth": 1.2}},
{"data": {"values": [{"t":1.2,"v":-52,"v2":-20.8},{"t":2.9,"v":-52,"v2":-12.9},{"t":4.3,"v":-52,"v2":-23.5},{"t":6.2,"v":-52,"v2":-15.6},{"t":8.3,"v":-52,"v2":-26.1},{"t":10,"v":-52,"v2":-18.2},{"t":12.4,"v":-52,"v2":-26.1},{"t":14.3,"v":-52,"v2":-16.9},{"t":16.2,"v":-52,"v2":-23.5},{"t":18.1,"v":-52,"v2":-20.8},{"t":20.2,"v":-52,"v2":-15.6},{"t":22.4,"v":-52,"v2":-24.8},{"t":24.3,"v":-52,"v2":-19.5},{"t":26.2,"v":-52,"v2":-22.2},{"t":28.6,"v":-52,"v2":-23.5},{"t":30.5,"v":-52,"v2":-15.6},{"t":32.6,"v":-52,"v2":-7.7},{"t":34.0,"v":-52,"v2":-20.8},{"t":36.2,"v":-52,"v2":-16.9},{"t":38.1,"v":-52,"v2":-10.3},{"t":40.5,"v":-52,"v2":-20.8},{"t":42.4,"v":-52,"v2":-12.9},{"t":44.8,"v":-52,"v2":-23.5},{"t":46.9,"v":-52,"v2":-10.3},{"t":48.8,"v":-52,"v2":-20.8},{"t":51.0,"v":-52,"v2":-18.2},{"t":52.9,"v":-52,"v2":-12.9},{"t":55.2,"v":-52,"v2":-15.6},{"t":57.1,"v":-52,"v2":-10.3},{"t":59.5,"v":-52,"v2":-20.8},{"t":61.9,"v":-52,"v2":-15.6},{"t":63.8,"v":-52,"v2":-23.5},{"t":66.2,"v":-52,"v2":-18.2},{"t":68.1,"v":-52,"v2":-12.9},{"t":70.2,"v":-52,"v2":-20.8},{"t":72.1,"v":-52,"v2":-15.6}]},
 "mark": {"type": "rule", "color": "#a1262d", "strokeWidth": 1.2}, "encoding": {"y2": {"field": "v2"}}},
{"data": {"values": [{"t":-14.3,"t2":-14.3,"v":-80,"v2":0},{"t":-18.6,"t2":-14.3,"v":0,"v2":0},{"t":-18.6,"t2":-14.3,"v":-40,"v2":-40},{"t":-18.6,"t2":-14.3,"v":-80,"v2":-80},{"t":7.9,"t2":17.9,"v":-69.7,"v2":-69.7}]},
 "mark": {"type": "rule", "color": "#333333", "strokeWidth": 1.2}, "encoding": {"x2": {"field": "t2"}, "y2": {"field": "v2"}}},
{"data": {"values": [{"t":-22.9,"v":0,"label":"0"},{"t":-22.9,"v":-40,"label":"-40"},{"t":-22.9,"v":-80,"label":"-80"}]}, "mark": {"type": "text", "fontSize": 17, "align": "right"}, "encoding": {"text": {"field": "label"}}},
{"data": {"values": [{"t":46.4,"v":25.3,"label":"TTX"},{"t":12.9,"v":-82.4,"label":"10 s"}]}, "mark": {"type": "text", "fontSize": 17}, "encoding": {"text": {"field": "label"}}},
{"data": {"values": [{"t":-60.7,"v":-39.6,"label":"Vₘ (mV)"}]}, "mark": {"type": "text", "fontSize": 18, "angle": 270}, "encoding": {"text": {"field": "label"}}},
{"data": {"values": [{"t":-59.3,"v":45.3,"label":"G"}]}, "mark": {"type": "text", "fontSize": 20, "fontWeight": "bold"}, "encoding": {"text": {"field": "label"}}}
]
},
{
"encoding": {"x": {"field": "t", "type": "quantitative", "scale": {"domain": [0, 15.64], "range": [936, 1153.4], "nice": false, "zero": false}, "axis": null},
"y": {"field": "v", "type": "quantitative", "scale": {"domain": [0.5, 1.5], "range": [158, 62], "nice": false, "zero": false}, "axis": null}},
"layer": [
{"data": {"values": [{"t":0,"v":1.278},{"t":0.05,"v":1.521},{"t":0.12,"v":1.729},{"t":0.17,"v":1.885},{"t":0.24,"v":1.59},{"t":0.29,"v":1.694},{"t":0.36,"v":1.347},{"t":0.41,"v":1.625},{"t":0.48,"v":1.451},{"t":0.53,"v":1.174},{"t":0.6,"v":1.347},{"t":0.72,"v":1.035},{"t":0.82,"v":1.139},{"t":0.89,"v":0.896},{"t":1.01,"v":0.705},{"t":1.13,"v":1.104},{"t":1.2,"v":1.486},{"t":1.29,"v":1.313},{"t":1.39,"v":1.0},{"t":1.49,"v":0.826},{"t":1.58,"v":1.208},{"t":1.68,"v":0.965},{"t":1.77,"v":1.486},{"t":1.87,"v":1.104},{"t":1.97,"v":0.861},{"t":2.06,"v":0.757},{"t":2.16,"v":1.0},{"t":2.28,"v":1.278},{"t":2.4,"v":0.965},{"t":2.49,"v":1.104},{"t":2.57,"v":1.538},{"t":2.64,"v":1.104},{"t":2.73,"v":0.896},{"t":2.83,"v":0.722},{"t":2.93,"v":0.618},{"t":3.17,"v":0.583},{"t":3.65,"v":0.566},{"t":4.6,"v":0.559},{"t":5.56,"v":0.549},{"t":6.52,"v":0.559},{"t":7.48,"v":0.538},{"t":8.44,"v":0.542},{"t":9.4,"v":0.549},{"t":10.36,"v":0.538},{"t":11.32,"v":0.549},{"t":12.28,"v":0.542},{"t":13.24,"v":0.549},{"t":14.2,"v":0.556},{"t":14.68,"v":0.556},{"t":15.64,"v":0.556}]},
 "mark": {"type": "line", "color": "#1752ff", "strokeWidth": 1.6}},
{"data": {"values": [{"t":-2.59,"t2":-2.59,"v":0.5,"v2":1.5},{"t":-2.59,"t2":-1.87,"v":1.5,"v2":1.5},{"t":-2.59,"t2":-1.87,"v":0.5,"v2":0.5},{"t":0.07,"t2":10.07,"v":0.448,"v2":0.448}]},
 "mark": {"type": "rule", "color": "#333333", "strokeWidth": 1.5}, "encoding": {"x2": {"field": "t2"}, "y2": {"field": "v2"}}},
{"data": {"values": [{"t":2.66,"t2":15.32,"v":1.802,"v2":1.802}]}, "mark": {"type": "rule", "color": "#000000", "strokeWidth": 3}, "encoding": {"x2": {"field": "t2"}, "y2": {"field": "v2"}}},
{"data": {"values": [{"t":-3.09,"v":1.5,"label":"1.5"},{"t":-3.09,"v":0.5,"label":"0.5"}]}, "mark": {"type": "text", "fontSize": 17, "align": "right"}, "encoding": {"text": {"field": "label"}}},
{"data": {"values": [{"t":8.27,"v":1.9375,"label":"NMDG"},{"t":5.07,"v":0.3125,"label":"10 min"}]}, "mark": {"type": "text", "fontSize": 18}, "encoding": {"text": {"field": "label"}}},
{"data": {"values": [{"t":-6.26,"v":1.0,"label":"[Ca²⁺]ᵢ (F₃₄₀/F₃₈₀)"}]}, "mark": {"type": "text", "fontSize": 18, "angle": 270}, "encoding": {"text": {"field": "label"}}},
{"data": {"values": [{"t":-6.55,"v":1.99,"label":"H"}]}, "mark": {"type": "text", "fontSize": 20, "fontWeight": "bold"}, "encoding": {"text": {"field": "label"}}}
]
},
{
"encoding": {"x": {"field": "t", "type": "quantitative", "scale": {"domain": [0, 40], "range": [918, 1154], "nice": false, "zero": false}, "axis": null},
"y": {"field": "v", "type": "quantitative", "scale": {"domain": [0, 800], "range": [372, 203], "nice": false, "zero": false}, "axis": null}},
"layer": [
{"data": {"values": [{"t":14.58,"t2":34.9,"v":800,"v2":-52}]}, "mark": {"type": "rect", "color": "#c9c9c9"}, "encoding": {"x2": {"field": "t2"}, "y2": {"field": "v2"}}},
{"data": {"values": [{"t":-0.5,"v":298},{"t":39.8,"v":298}]}, "mark": {"type": "line", "color": "#333333", "strokeWidth": 1, "strokeDash": [2, 2]}},
{"data": {"values": [{"t":0.51,"v":202},{"t":1.64,"v":250},{"t":3.73,"v":302},{"t":4.86,"v":286},{"t":5.99,"v":265},{"t":7.12,"v":278},{"t":8.14,"v":231},{"t":9.10,"v":313},{"t":10.23,"v":270},{"t":13.62,"v":291},{"t":14.58,"v":265},{"t":15.71,"v":160},{"t":17.7,"v":73},{"t":18.8,"v":49},{"t":19.8,"v":38},{"t":20.8,"v":33},{"t":21.9,"v":32},{"t":23.0,"v":32},{"t":24.1,"v":32},{"t":25.2,"v":32},{"t":26.3,"v":33},{"t":27.5,"v":28},{"t":28.6,"v":28},{"t":29.7,"v":22},{"t":30.8,"v":33},{"t":32.0,"v":28},{"t":33.1,"v":28},{"t":34.1,"v":33},{"t":35.2,"v":36},{"t":36.3,"v":218},{"t":37.2,"v":464}]},
 "mark": {"type": "point", "shape": "circle", "filled": true, "size": 64, "color": "#1f27c4", "stroke": "#111133", "strokeWidth": 0.8, "opacity": 1}},
{"data": {"values": [{"t":0.62,"v":267},{"t":1.58,"v":297},{"t":2.71,"v":286},{"t":3.73,"v":344},{"t":4.86,"v":246},{"t":5.99,"v":318},{"t":7.12,"v":306},{"t":8.25,"v":286},{"t":9.38,"v":278},{"t":10.51,"v":297},{"t":12.49,"v":310},{"t":13.62,"v":325},{"t":14.75,"v":297},{"t":15.71,"v":186},{"t":16.61,"v":120},{"t":17.74,"v":96},{"t":18.76,"v":65},{"t":19.83,"v":49},{"t":20.85,"v":41},{"t":21.92,"v":38},{"t":22.94,"v":33},{"t":24.07,"v":38},{"t":25.2,"v":38},{"t":26.33,"v":41},{"t":27.46,"v":41},{"t":28.59,"v":49},{"t":29.72,"v":41},{"t":30.85,"v":36},{"t":31.98,"v":54},{"t":33.11,"v":41},{"t":34.24,"v":49},{"t":35.08,"v":101},{"t":36.21,"v":452},{"t":37.23,"v":400}]},
 "mark": {"type": "point", "shape": "circle", "filled": true, "size": 64, "color": "#bde6d7", "stroke": "#333333", "strokeWidth": 0.8, "opacity": 1}},
{"data": {"values": [{"t":0.62,"v":250},{"t":1.75,"v":349},{"t":2.88,"v":329},{"t":4.01,"v":325},{"t":5.14,"v":329},{"t":6.27,"v":357},{"t":7.4,"v":294},{"t":8.53,"v":349},{"t":9.66,"v":344},{"t":10.79,"v":306},{"t":11.92,"v":291},{"t":13.05,"v":360},{"t":14.18,"v":370},{"t":15.31,"v":318},{"t":16.44,"v":191},{"t":17.57,"v":147},{"t":18.59,"v":115},{"t":19.72,"v":76},{"t":20.85,"v":60},{"t":21.98,"v":49},{"t":23.11,"v":44},{"t":24.24,"v":44},{"t":25.37,"v":41},{"t":26.5,"v":41},{"t":27.63,"v":41},{"t":28.76,"v":44},{"t":29.89,"v":49},{"t":31.02,"v":44},{"t":32.15,"v":44},{"t":33.28,"v":44},{"t":34.41,"v":65},{"t":35.37,"v":401},{"t":36.5,"v":444},{"t":37.63,"v":357}]},
 "mark": {"type": "point", "shape": "square", "filled": true, "size": 52, "color": "#f6a700", "stroke": "#553300", "strokeWidth": 0.8, "opacity": 1}},
{"data": {"values": [{"t":18.5,"v":711}]}, "mark": {"type": "point", "shape": "circle", "filled": true, "size": 64, "color": "#1f27c4", "stroke": "#111133", "strokeWidth": 0.8, "opacity": 1}},
{"data": {"values": [{"t":18.5,"v":592}]}, "mark": {"type": "point", "shape": "circle", "filled": true, "size": 64, "color": "#bde6d7", "stroke": "#333333", "strokeWidth": 0.8, "opacity": 1}},
{"data": {"values": [{"t":18.5,"v":479}]}, "mark": {"type": "point", "shape": "square", "filled": true, "size": 52, "color": "#f6a700", "stroke": "#553300", "strokeWidth": 0.8, "opacity": 1}},
{"data": {"values": [{"t":20.3,"v":711,"label":"NMDG"},{"t":20.3,"v":592,"label":"Choline"},{"t":20.3,"v":479,"label":"TMA"}]}, "mark": {"type": "text", "fontSize": 18, "align": "left"}, "encoding": {"text": {"field": "label"}}},
{"data": {"values": [{"t":-2.88,"t2":-2.88,"v":0,"v2":800},{"t":-2.88,"t2":-1.69,"v":0,"v2":0},{"t":-2.88,"t2":-1.69,"v":400,"v2":400},{"t":-2.88,"t2":-1.69,"v":800,"v2":800},{"t":0,"t2":10,"v":4.7,"v2":4.7}]},
 "mark": {"type": "rule", "color": "#333333", "strokeWidth": 1.4}, "encoding": {"x2": {"field": "t2"}, "y2": {"field": "v2"}}},
{"data": {"values": [{"t":-4.24,"v":800,"label":"800"},{"t":-4.24,"v":400,"label":"400"},{"t":-4.24,"v":0,"label":"0"}]}, "mark": {"type": "text", "fontSize": 17, "align": "right"}, "encoding": {"text": {"field": "label"}}},
{"data": {"values": [{"t":4.8,"v":-52,"label":"10 min"}]}, "mark": {"type": "text", "fontSize": 18}, "encoding": {"text": {"field": "label"}}},
{"data": {"values": [{"t":-11.4,"v":450,"label":"PRL (ng/min)"}]}, "mark": {"type": "text", "fontSize": 18, "angle": 270}, "encoding": {"text": {"field": "label"}}},
{"data": {"values": [{"t":-11.7,"v":829,"label":"I"}]}, "mark": {"type": "text", "fontSize": 20, "fontWeight": "bold"}, "encoding": {"text": {"field": "label"}}}
]
},
{
"encoding": {"x": {"field": "x", "type": "quantitative", "scale": {"domain": [0, 60.3], "range": [550, 1153], "nice": false, "zero": false}, "axis": null},
"y": {"field": "y", "type": "quantitative", "scale": {"domain": [0, 28.4], "range": [404, 688], "nice": false, "zero": false}, "axis": null}},
"layer": [
{"data": {"values": [{"x":0,"x2":60.3,"y":0,"y2":28.4}]}, "mark": {"type": "rect", "color": "#cfe3f8"}, "encoding": {"x2": {"field": "x2"}, "y2": {"field": "y2"}}},
{"data": {"values": [{"x":20.3,"y":2.4,"x2":3.7,"y2":2.4},{"x":3.7,"y":2.4,"x2":3.7,"y2":16.1},{"x":26.5,"y":2.4,"x2":58.8,"y2":2.4},{"x":58.8,"y":2.4,"x2":58.8,"y2":26.3},{"x":58.8,"y":10.0,"x2":56.5,"y2":10.0},{"x":58.8,"y":18.5,"x2":55.0,"y2":18.5},{"x":58.8,"y":26.2,"x2":56.4,"y2":26.2},{"x":22.9,"y":8.4,"x2":22.9,"y2":4.8},{"x":19.5,"y":10.6,"x2":11.7,"y2":10.6},{"x":11.7,"y":10.6,"x2":11.7,"y2":16.1},{"x":26.8,"y":11.1,"x2":36.5,"y2":11.1},{"x":22.9,"y":16.6,"x2":22.9,"y2":13.0},{"x":3.6,"y":20.9,"x2":6.7,"y2":23.8},{"x":11.7,"y":20.9,"x2":8.8,"y2":23.8},{"x":11.7,"y":26.3,"x2":17.5,"y2":26.3},{"x":28.7,"y":26.3,"x2":38.8,"y2":12.6},{"x":28.7,"y":26.3,"x2":38.6,"y2":20.4},{"x":28.7,"y":26.3,"x2":36.8,"y2":26.3},{"x":45.3,"y":16.9,"x2":45.3,"y2":12.9}]},
 "mark": {"type": "rule", "color": "#ff1f1f", "strokeWidth": 2.6, "strokeCap": "square"}, "encoding": {"x2": {"field": "x2"}, "y2": {"field": "y2"}}},
{"data": {"values": [{"x":26.8,"y":9.9,"x2":36.5,"y2":9.9},{"x":22.9,"y":24.4,"x2":22.9,"y2":20.7}]},
 "mark": {"type": "rule", "color": "#1f5bff", "strokeWidth": 2.6}, "encoding": {"x2": {"field": "x2"}, "y2": {"field": "y2"}}},
{"data": {"values": [{"x":3.7,"y":16.1,"ang":180},{"x":56.5,"y":10.0,"ang":270},{"x":55.0,"y":18.5,"ang":270},{"x":56.4,"y":26.2,"ang":270},{"x":22.9,"y":4.8,"ang":0},{"x":11.7,"y":16.1,"ang":180},{"x":36.5,"y":11.1,"ang":90},{"x":22.9,"y":13.0,"ang":0},{"x":6.7,"y":23.8,"ang":133},{"x":8.8,"y":23.8,"ang":225},{"x":17.5,"y":26.3,"ang":90},{"x":38.8,"y":12.6,"ang":36},{"x":38.6,"y":20.4,"ang":60},{"x":36.8,"y":26.3,"ang":90},{"x":45.3,"y":12.9,"ang":0}]},
 "mark": {"type": "point", "shape": "M0,-1L1,1L-1,1Z", "filled": true, "size": 180, "color": "#ff1f1f", "opacity": 1, "strokeWidth": 0}, "encoding": {"angle": {"field": "ang", "type": "quantitative", "scale": null}}},
{"data": {"values": [{"x":36.5,"y":9.9},{"x":22.9,"y":20.7}]}, "mark": {"type": "point", "shape": "circle", "filled": true, "size": 130, "color": "#1f5bff", "opacity": 1}},
{"data": {"values": [{"x":23.5,"y":2.3,"label":"PKA"},{"x":23.5,"y":10.5,"label":"cAMP"},{"x":23.0,"y":18.4,"label":"AC"},{"x":23.5,"y":26.4,"label":"Calcium"},{"x":7.7,"y":26.4,"label":"APs"},{"x":11.7,"y":19.1,"label":"HCN"},{"x":2.8,"y":19.1,"label":"Na"},{"x":46.5,"y":10.3,"label":"PRL Exocytosis"},{"x":46.8,"y":26.4,"label":"Cell Proliferation"}]},
 "mark": {"type": "text", "fontSize": 22}, "encoding": {"text": {"field": "label"}}},
{"data": {"values": [{"x":41.6,"y":18.4,"label":"expression"}]}, "mark": {"type": "text", "fontSize": 22, "align": "left"}, "encoding": {"text": {"field": "label"}}},
{"data": {"values": [{"x":38.5,"y":18.4,"label":"Prl"}]}, "mark": {"type": "text", "fontSize": 22, "align": "left", "fontStyle": "italic"}, "encoding": {"text": {"field": "label"}}},
{"data": {"values": [{"x":4.5,"y":19.7,"label":"b"}]}, "mark": {"type": "text", "fontSize": 14}, "encoding": {"text": {"field": "label"}}},
{"data": {"values": [{"x":36.9,"y":24.6,"label":"?"}]}, "mark": {"type": "text", "fontSize": 17, "fontWeight": "bold"}, "encoding": {"text": {"field": "label"}}},
{"data": {"values": [{"x":0.7,"y":-1.0,"label":"J"}]}, "mark": {"type": "text", "fontSize": 20, "fontWeight": "bold"}, "encoding": {"text": {"field": "label"}}}
]
}
]
}
